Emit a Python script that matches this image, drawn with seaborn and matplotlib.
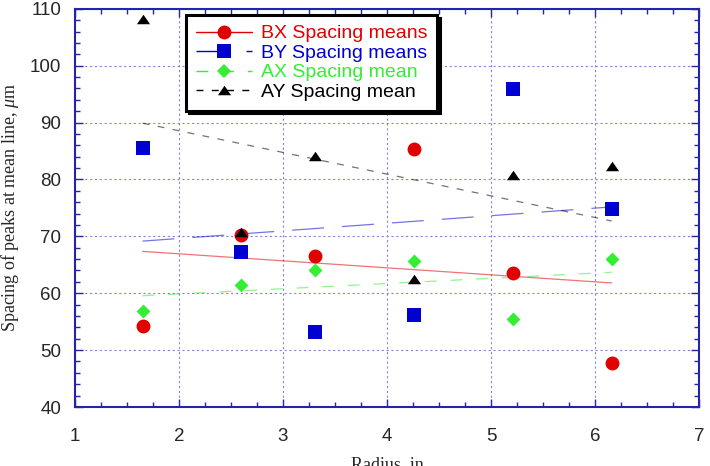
import pandas as pd
import seaborn as sns
import matplotlib.pyplot as plt
from matplotlib.lines import Line2D
from matplotlib.ticker import MultipleLocator

# values
radius = [1.65, 2.60, 3.31, 4.26, 5.21, 6.16]
bx_spacing = [54.3, 70.2, 66.6, 85.4, 63.6, 47.7]
by_spacing = [85.6, 67.2, 53.1, 56.1, 95.9, 74.8]
ax_spacing = [56.8, 61.5, 64.1, 65.6, 55.5, 66.0]
ay_spacing = [108.2, 70.8, 84.1, 62.5, 80.7, 82.4]

series = ["BX", "BY", "AX", "AY"]
labels = ["BX Spacing means", "BY Spacing means", "AX Spacing mean", "AY Spacing mean"]
colors = ["#e00000", "#0000d0", "#33ee33", "#000000"]
tri = [(-1, -0.72), (1, -0.72), (0, 0.72)]
markers = ["o", "s", "D", tri]
sizes = [100, 100, 50, 90]
dashes = [None, (23, 13), (8.5, 10), (5, 6)]

df = pd.DataFrame({"radius": radius, "BX": bx_spacing, "BY": by_spacing,
                   "AX": ax_spacing, "AY": ay_spacing})

sns.set_style("ticks")
plt.rcParams["font.family"] = ["Liberation Sans", "DejaVu Sans"]
plt.rcParams["lines.scale_dashes"] = False
plt.rcParams["mathtext.fontset"] = "custom"
plt.rcParams["mathtext.rm"] = "Liberation Serif"
plt.rcParams["mathtext.it"] = "Liberation Serif:italic"

fig = plt.figure(figsize=(7.1, 4.66), dpi=100)
ax = fig.add_axes([0.1056, 0.1266, 0.879, 0.8545])

for col, color, marker, size, dash in zip(series, colors, markers, sizes, dashes):
    line_kws = {"lw": 0.9, "alpha": 0.55}
    if dash:
        line_kws["dashes"] = dash
    sns.regplot(data=df, x="radius", y=col, scatter=False, ci=None, color=color,
                line_kws=line_kws, ax=ax)
    sns.scatterplot(data=df, x="radius", y=col, marker=marker, s=size, color=color,
                    linewidth=0, ax=ax, zorder=3)

ax.set_xlim(1, 7)
ax.set_ylim(40, 110)
ax.xaxis.set_major_locator(MultipleLocator(1))
ax.xaxis.set_minor_locator(MultipleLocator(0.25))
ax.yaxis.set_major_locator(MultipleLocator(10))
ax.yaxis.set_minor_locator(MultipleLocator(2))

frame = "#2424a8"
for sp in ax.spines.values():
    sp.set_color(frame)
    sp.set_linewidth(1.5)
ax.tick_params(which="both", direction="in", top=True, right=True, color=frame, width=1)
ax.tick_params(which="major", length=6, labelsize=13.5)
ax.tick_params(which="minor", length=3.5)
ax.tick_params(axis="y", pad=10)
ax.tick_params(axis="x", pad=15)
ax.grid(which="major", color="#8080d8", linestyle=(0, (1.5, 2)), lw=0.8)

ax.set_xlabel("Radius, in", family="Liberation Serif", fontsize=13)
ax.set_ylabel(r"Spacing of peaks at mean line, $\mathit{\mu}$m", family="Liberation Serif",
              fontsize=13)
ax.xaxis.set_label_coords(0.5, -0.123)
ax.yaxis.set_label_coords(-0.086, 0.5)

handles = []
for color, marker, size, dash in zip(colors, markers, sizes, dashes):
    kw = {"dashes": dash} if dash else {"linestyle": "-"}
    handles.append(Line2D([], [], color=color, lw=1, marker=marker,
                          markersize=size ** 0.5, markeredgewidth=0, **kw))
leg = ax.legend(handles, labels, loc="upper left", bbox_to_anchor=(186 / 710, 1 - 15 / 466),
                bbox_transform=fig.transFigure, borderaxespad=0, fontsize=14,
                handlelength=2.9, labelspacing=0.1, handletextpad=0.45,
                borderpad=0.5, fancybox=False, framealpha=1, edgecolor="black",
                shadow={"color": "black", "alpha": 1})
leg.get_frame().set_linewidth(2.2)
for txt, color in zip(leg.get_texts(), colors):
    txt.set_color(color)

fig.savefig("out.png", dpi=100)
